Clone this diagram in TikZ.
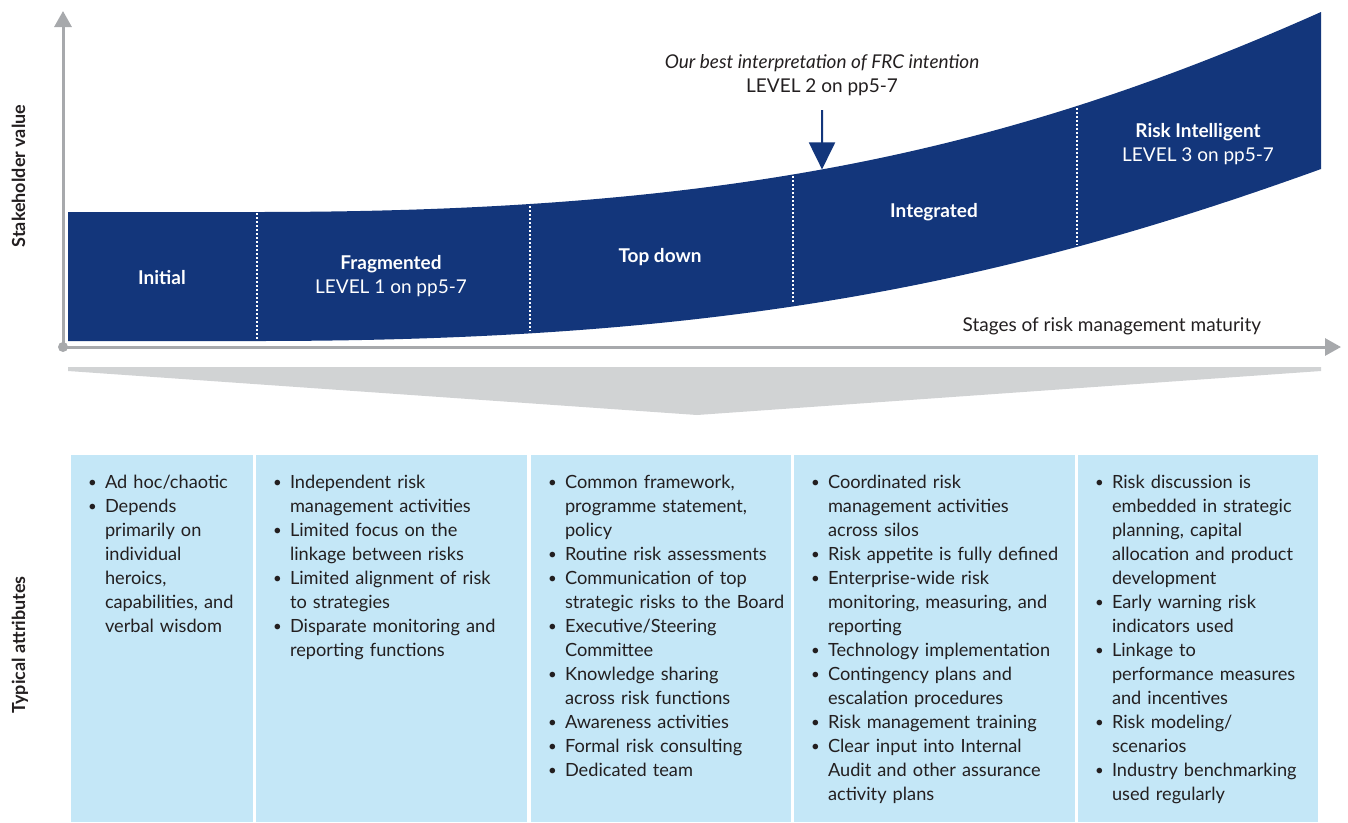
\documentclass[tikz,border=0pt]{standalone}
\usepackage{fontspec}
\setmainfont{Lato}
\usetikzlibrary{arrows.meta,intersections}
\definecolor{navy}{RGB}{19,54,123}
\definecolor{boxblue}{RGB}{196,231,247}
\definecolor{axisgrey}{RGB}{167,169,172}
\definecolor{wedgegrey}{RGB}{209,211,212}
\definecolor{txt}{RGB}{35,31,32}
\newcommand{\bl}[1]{\par\noindent\hangindent=17pt\hangafter=1\makebox[17pt][l]{\raisebox{0.6pt}{\fontsize{15}{24}\selectfont\textbullet}}\strut#1\par}
\begin{document}
\begin{tikzpicture}[x=1pt,y=-1pt,
  every node/.style={inner sep=0pt,outer sep=0pt},
  axis/.style={axisgrey,line width=3pt},
  divider/.style={white,line width=1.8pt,dash pattern=on 1.8pt off 2.2pt},
  bandlbl/.style={text=white,font=\fontsize{19}{24}\selectfont,align=center,anchor=north},
  toplbl/.style={text=txt,font=\fontsize{19}{24}\selectfont,align=center,anchor=north},
  sidelbl/.style={text=txt,font=\fontsize{18}{22}\selectfont\bfseries,rotate=90,anchor=base},
  attrbox/.style={fill=boxblue,anchor=north west,minimum height=367pt},
  attr/.style={text=txt,text width=300pt,align=left,font=\fontsize{18.2}{24}\selectfont,anchor=north west}]
\useasboundingbox (0,0) rectangle (1348,822);
% band
\fill[navy] (68,212) -- (258,212) .. controls (720,212) and (1000,155) .. (1321,12)
  -- (1321,169) .. controls (1000,285) and (720,341) .. (258,341) -- (68,341) -- cycle;
\path[name path=topc] (258,212) .. controls (720,212) and (1000,155) .. (1321,12);
\path[name path=botc] (258,341) .. controls (720,341) and (1000,285) .. (1321,169);
\foreach \i/\x in {2/530,3/793,4/1077,5/822}{
  \path[name path=v\i] (\x,0) -- (\x,400);
  \path[name intersections={of=topc and v\i,by=t\i}];
  \path[name intersections={of=botc and v\i,by=b\i}];
}
\coordinate (t1) at (257,213);
\coordinate (b1) at (257,340);
\draw[divider] (t1) -- (b1);
\draw[divider] ([yshift=-2pt]t2) -- ([yshift=2pt]b2);
\draw[divider] ([yshift=-2pt]t3) -- ([yshift=2pt]b3);
\draw[divider] ([yshift=-2pt]t4) -- ([yshift=2pt]b4);
% axes
\coordinate (O) at (63,347);
\coordinate (ytip) at (63,11);
\coordinate (xtip) at (1341,347);
\draw[axis,-{Triangle[length=16pt,width=17pt]}] (O) -- (ytip);
\draw[axis,-{Triangle[length=16pt,width=17pt]}] (O) -- (xtip);
\fill[axisgrey] (O) circle (5);
% band labels
\node[bandlbl] (initial) at (162,284-16.8) {\strut\bfseries Initial};
\node[bandlbl] (frag) at (391,269.5-16.8) {\strut\bfseries Fragmented\\\strut LEVEL 1 on pp5-7};
\node[bandlbl] (topdown) at (660,262-16.8) {\strut\bfseries Top down};
\node[bandlbl] (integ) at (934,217-16.8) {\strut\bfseries Integrated};
\node[bandlbl] (riskint) at (1198,137-16.8) {\strut\bfseries Risk Intelligent\\\strut LEVEL 3 on pp5-7};
% annotation
\node[toplbl] (frc) at (822,68-16.8) {\strut\itshape Our best interpretation of FRC intention\\\strut LEVEL 2 on pp5-7};
\coordinate (arstart) at (822,110);
\draw[navy,line width=2pt,-{Triangle[length=27pt,width=26pt]}] (arstart) -- (t5);
\node[text=txt,font=\fontsize{19}{24}\selectfont,anchor=base east] (stages) at (1261,331) {Stages of risk management maturity};
% side labels
\node[sidelbl] (stake) at (25,176) {Stakeholder value};
\node[sidelbl] (typ) at (25,645) {Typical attributes};
% wedge
\fill[wedgegrey] (68,367) -- (1321,367) -- (1321,371) -- (697,415) -- (68,371) -- cycle;
% boxes
\node[attrbox,minimum width=182pt] (box1) at (71,455) {};
\node[attrbox,minimum width=271pt] (box2) at (256,455) {};
\node[attrbox,minimum width=260pt] (box3) at (531,455) {};
\node[attrbox,minimum width=281pt] (box4) at (794,455) {};
\node[attrbox,minimum width=240pt] (box5) at (1078,455) {};
\node[attr] (a1) at (88,464.2) {\bl{Ad hoc/chaotic}\bl{Depends\newline primarily on\newline individual\newline heroics,\newline capabilities, and\newline verbal wisdom}};
\node[attr] (a2) at (273,464.2) {\bl{Independent risk\newline management activities}\bl{Limited focus on the\newline linkage between risks}\bl{Limited alignment of risk\newline to strategies}\bl{Disparate monitoring and\newline reporting functions}};
\node[attr] (a3) at (548,464.2) {\bl{Common framework,\newline programme statement,\newline policy}\bl{Routine risk assessments}\bl{Communication of top\newline strategic risks to the Board}\bl{Executive/Steering\newline Committee}\bl{Knowledge sharing\newline across risk functions}\bl{Awareness activities}\bl{Formal risk consulting}\bl{Dedicated team}};
\node[attr] (a4) at (811,464.2) {\bl{Coordinated risk\newline management activities\newline across silos}\bl{Risk appetite is fully defined}\bl{Enterprise-wide risk\newline monitoring, measuring, and\newline reporting}\bl{Technology implementation}\bl{Contingency plans and\newline escalation procedures}\bl{Risk management training}\bl{Clear input into Internal\newline Audit and other assurance\newline activity plans}};
\node[attr] (a5) at (1095,464.2) {\bl{Risk discussion is\newline embedded in strategic\newline planning, capital\newline allocation and product\newline development}\bl{Early warning risk\newline indicators used}\bl{Linkage to\newline performance measures\newline and incentives}\bl{Risk modeling/\newline scenarios}\bl{Industry benchmarking\newline used regularly}};
\end{tikzpicture}
\end{document}
